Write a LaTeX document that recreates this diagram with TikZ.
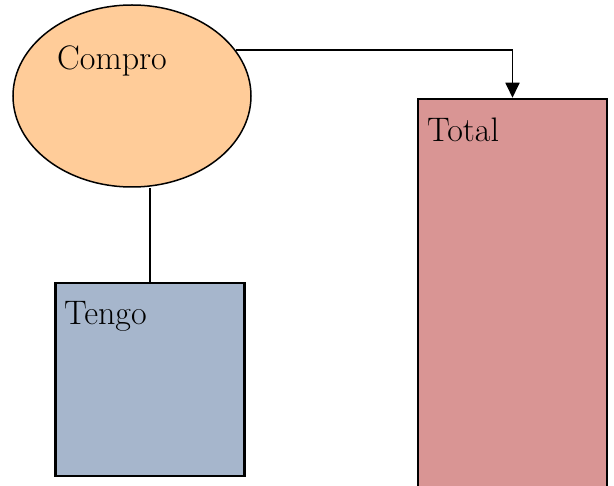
\documentclass[tikz,border=0pt]{standalone}
\usepackage{xcolor}
\usetikzlibrary{shapes.geometric,arrows.meta}
\definecolor{peach}{RGB}{255,204,153}
\definecolor{slate}{RGB}{166,182,204}
\definecolor{rose}{RGB}{217,149,148}

\begin{document}
\begin{tikzpicture}[x=1pt,y=-1pt]
      \useasboundingbox(0,0) rectangle (614,486);
      \clip(0,0) rectangle (614,486);
      \tikzset{B/.style = {draw, line width=2.5pt, inner sep=0pt}}
      \tikzset{L/.style = {anchor=base west, inner sep=0pt, text=black, font=\fontsize{34}{38}\selectfont}}
      \tikzset{E/.style = {draw, line width=1.8pt}}
      \node[B,ellipse,fill=peach,line width=1.5pt,minimum width=238,minimum height=182](compro) at (132,96) {};
      \node[B,rectangle,fill=slate,minimum width=189,minimum height=193](tengo) at (150,379.5) {};
      \node[B,rectangle,fill=rose,minimum width=189,minimum height=441](total) at (512.5,319.5) {};
      \node[L](tcompro) at (57,70) {Compro};
      \node[L](ttengo) at (64,325) {Tengo};
      \node[L](ttotal) at (427,142) {Total};
      \draw[E](tengo.north) to (tengo.north |- compro.south);
      \draw[E,-{Triangle[width=14pt,length=15pt]}](compro.24) -| (total.north);
    \end{tikzpicture}
\end{document}
